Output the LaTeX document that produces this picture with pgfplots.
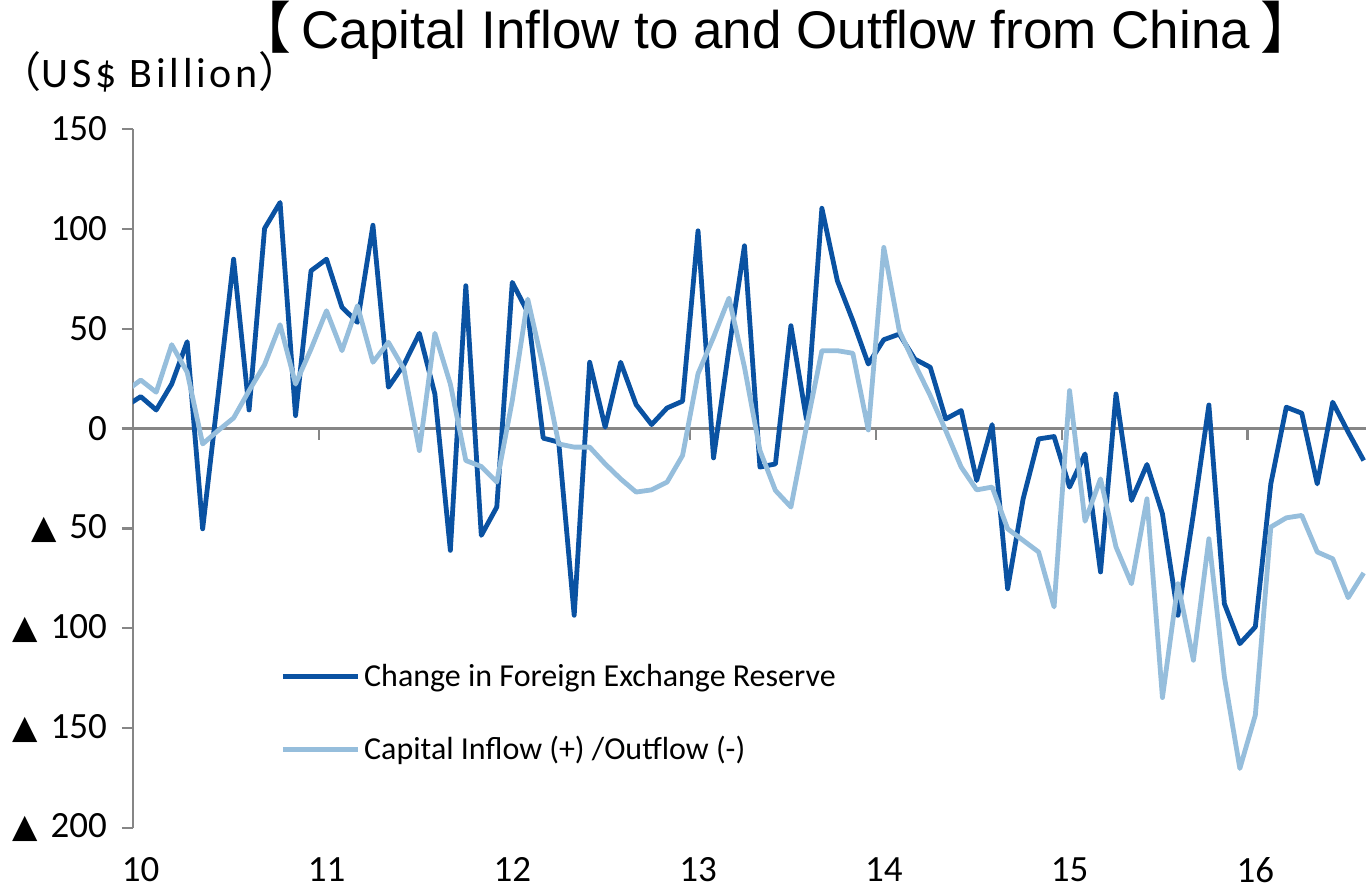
\documentclass[border=0pt]{standalone}
\usepackage{fontspec}
\setmainfont{Carlito}
\newfontfamily\arial{Liberation Sans}
\newfontfamily\cjk{Noto Sans CJK JP}
\newfontfamily\dejavu{DejaVu Sans}
\newfontfamily\spaced[LetterSpace=9]{Carlito}
\usepackage{pgfplots}
\pgfplotsset{compat=1.18}
\usepackage{pgfplotstable}
\definecolor{darkblue}{RGB}{10,82,162}
\definecolor{lightblue}{RGB}{150,190,220}
\definecolor{axisgray}{RGB}{134,134,134}

% i = months since Jan 2010 (i=-1 is Dec 2009, clipped at the left edge)
\pgfplotstableread{
i dark light
-1 11 18.5
0 16 24.3
1 9.3 18.2
2 22.3 42
3 43.5 28.2
4 -50.2 -7.7
5 17 -1
6 84.8 5.3
7 9.3 19
8 100.2 32
9 113.2 52
10 6.5 22.3
11 79 39.8
12 84.8 59
13 60.7 39
14 53.2 61.5
15 101.8 33.2
16 20.7 43.2
17 32 29.8
18 47.7 -11
19 17.3 47.7
20 -61 22.3
21 71.5 -16
22 -53.5 -19
23 -39.3 -26.8
24 73.2 14
25 58.2 64.8
26 -4.8 30.7
27 -6.8 -7.7
28 -93.5 -9.3
29 33.2 -9.3
30 0.7 -17.7
31 33.2 -25.2
32 12 -31.8
33 2 -30.7
34 10.3 -26.8
35 13.7 -13.5
36 99 27.5
37 -14.7 45.7
38 40 65.3
39 91.5 30.7
40 -19.3 -11
41 -17.7 -31
42 51.5 -39.3
43 4.8 0.7
44 110.3 39
45 74 39
46 54 37.7
47 32.3 -0.7
48 44.5 90.7
49 47.3 49
50 34.8 32.3
51 30.7 16.5
52 4.8 -1
53 9 -19.3
54 -26 -30.7
55 2 -29.3
56 -80.2 -50.2
57 -35.2 -56
58 -5.2 -61.8
59 -4 -89.3
60 -29.3 19
61 -12.7 -46.4
62 -71.8 -25.2
63 17.3 -59.3
64 -36 -77.7
65 -18 -35.2
66 -42.7 -134.7
67 -93.5 -77.7
68 -42.7 -116
69 11.8 -55.2
70 -87.7 -124.3
71 -107.7 -170.2
72 -99.3 -143.5
73 -27.7 -49.3
74 10.7 -44.7
75 7.7 -43.5
76 -27.7 -61.8
77 13.2 -65.2
78 -1.8 -84.7
79 -16 -72.3
}\datatable

\newcommand{\tri}{{\dejavu\fontsize{16.5}{16.5}\selectfont ▲}\hspace{6.5pt}}

\begin{document}
\begin{tikzpicture}
\useasboundingbox (-66.5pt,-29.5pt) rectangle (617pt,414pt);
\begin{axis}[
  scale only axis, width=616.5pt, height=349.5pt,
  xmin=-0.5, xmax=79.15, ymin=-200, ymax=150,
  axis y line*=left, axis x line*=bottom,
  x axis line style={draw=none},
  y axis line style={axisgray, line width=1.2pt, -},
  xtick style={draw=none},
  ytick style={axisgray, line width=1.2pt},
  tick align=outside, major tick length=5.5pt,
  xtick={0,12,24,36,48,60,72},
  xticklabels={10,11,12,13,14,15,16},
  ytick={-200,-150,-100,-50,0,50,100,150},
  yticklabels={{\tri 200},{\tri 150},{\tri 100},{\tri 50},0,50,100,150},
  tick label style={font=\fontsize{18.5}{22}\selectfont},
  xticklabel style={inner sep=0pt, yshift=-9pt},
  yticklabel style={xshift=-4pt},
  extra y ticks={0}, extra y tick labels={},
  extra y tick style={grid=major, major grid style={axisgray, line width=1.2pt}},
  legend cell align=left,
  legend style={at={(0.1192,0.1638)}, anchor=west, draw=none, fill=none,
    inner sep=0pt, font=\fontsize{16}{19}\selectfont, row sep=19.5pt},
  legend image code/.code={\draw[#1] (0pt,0pt) -- (37.5pt,0pt);},
]
\pgfplotsinvokeforeach{11.5,23.5,35.5,47.5,59.5,71.5}{
  \draw[axisgray, line width=1.2pt] (axis cs:#1,0) -- ([yshift=-5.5pt]axis cs:#1,0);
}
\addplot[darkblue, line width=2.4pt, line join=round] table[x=i, y=dark]{\datatable};
\addlegendentry{Change in Foreign Exchange Reserve}
\addplot[lightblue, line width=2.4pt, line join=round] table[x=i, y=light]{\datatable};
\addlegendentry{Capital Inflow (+) /Outflow (-)}
\end{axis}
\node[font=\arial\fontsize{26.5}{30}\selectfont, anchor=center, inner sep=0pt] at (321.5pt,399pt)
  {{\cjk\fontsize{28}{28}\selectfont 【}\hspace{5pt}Capital Inflow to and Outflow from China\hspace{5pt}{\cjk\fontsize{28}{28}\selectfont 】}};
\node[anchor=base west, inner sep=0pt, font=\spaced\fontsize{21}{24}\selectfont] at (-67pt,370pt)
  {{\cjk （}US\$ Billion{\cjk ）}};
\end{tikzpicture}
\end{document}
